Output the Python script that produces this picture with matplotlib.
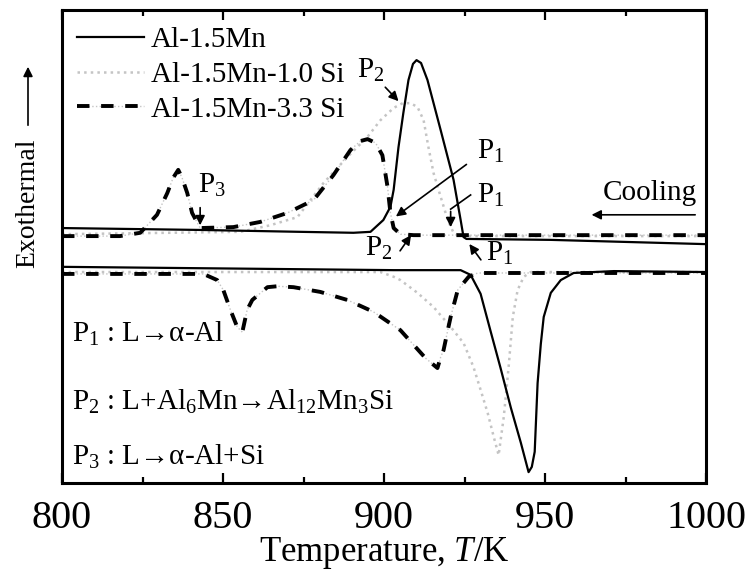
import matplotlib
matplotlib.use("Agg")
import matplotlib.pyplot as plt
from matplotlib.legend_handler import HandlerTuple
from matplotlib.ticker import MultipleLocator

plt.rcParams['font.family'] = ['Liberation Serif', 'DejaVu Serif']
plt.rcParams['mathtext.fontset'] = 'custom'
plt.rcParams['mathtext.rm'] = 'Liberation Serif'
plt.rcParams['mathtext.it'] = 'Liberation Serif:italic'

# ---- data (temperature K, signal arb. units) ----
mn_cool_T = [800, 843, 874, 890.5, 895.8, 899.8, 902.0, 903.0, 904.5, 906.0, 907.6, 909.0,
             910.1, 911.5, 913.5, 917.6, 921.6, 923.8, 924.7, 925.6, 951.8, 1000]
mn_cool_y = [53.9, 53.5, 53.1, 52.9, 53.1, 55.6, 58.4, 62.0, 71.0, 78.2, 85.2, 88.6,
             89.4, 88.8, 85.2, 74.6, 64.1, 55.6, 52.0, 51.6, 51.4, 50.5]

si10_cool_T = [800, 855.4, 864.7, 873.1, 881.2, 888.6, 894.9, 898.9, 903.0, 905.8, 908.2,
               910.4, 912.3, 913.8, 915.4, 917.6, 919.8, 921.6, 923.8, 1000]
si10_cool_y = [52.6, 53.1, 54.5, 56.2, 63.4, 68.9, 73.2, 76.7, 79.3, 80.3, 80.3,
               79.5, 76.7, 71.0, 65.5, 60.5, 55.6, 52.9, 52.2, 52.2]

si33_cool_T = [800, 818.0, 824.3, 829.5, 832.7, 834.5, 836.1, 837.3, 838.9, 840.4, 842.9,
               853.2, 861.6, 870.0, 878.1, 884.3, 889.6, 892.7, 894.9, 897.4, 899.5,
               901.1, 902.0, 903.0, 905.1, 909.2, 1000]
si33_cool_y = [52.2, 52.2, 52.9, 56.7, 61.3, 64.5, 66.2, 64.5, 61.3, 57.1, 53.9,
               54.1, 55.2, 57.1, 59.8, 65.1, 70.4, 72.3, 72.7, 71.9, 69.3,
               62.6, 57.1, 53.9, 52.6, 52.4, 52.4]

mn_heat_T = [800, 903, 923.8, 926.9, 930.0, 933.1, 936.2, 939.4, 942.5, 944.9, 945.9,
             946.8, 947.7, 948.7, 949.6, 951.8, 954.9, 958.9, 971.4, 1000]
mn_heat_y = [45.7, 45.0, 45.0, 44.0, 40.0, 32.1, 24.3, 15.9, 8.5, 2.3, 3.4,
             6.6, 21.1, 29.4, 35.1, 40.2, 42.9, 44.4, 44.8, 44.6]

si10_heat_T = [800, 898.9, 903.0, 905.1, 910.4, 915.4, 920.7, 924.7, 927.8, 930.0, 932.2,
               934.1, 935.6, 937.2, 938.7, 940.0, 941.5, 943.4, 945.6, 1000]
si10_heat_y = [44.6, 44.6, 43.6, 42.9, 40.2, 37.2, 33.0, 29.6, 24.5, 19.7, 14.8,
               9.7, 5.9, 14.0, 24.5, 35.1, 40.8, 43.6, 44.6, 44.6]

si33_heat_T = [800, 843.9, 848.2, 850.1, 852.3, 854.4, 856.0, 857.5, 859.1, 863.8, 866.9,
               871.9, 880.2, 888.6, 896.7, 905.1, 912.9, 916.6, 917.6, 918.5, 919.8,
               920.7, 922.9, 926.3, 929.1, 1000]
si33_heat_y = [44.2, 44.2, 42.9, 40.8, 36.6, 33.0, 31.9, 36.6, 38.7, 41.4, 41.6,
               41.4, 40.4, 38.7, 36.2, 32.3, 26.4, 24.3, 26.6, 28.1, 32.3,
               35.1, 40.8, 43.6, 44.4, 44.4]

labels = ['Al-1.5Mn', 'Al-1.5Mn-1.0 Si', 'Al-1.5Mn-3.3 Si']
xticks = [800, 850, 900, 950, 1000]

# ---- figure ----
fig = plt.figure(figsize=(7.49, 5.74), dpi=100)
ax = fig.add_axes([62/749, 1 - 483/574, (706-62)/749, (483-10)/574])

grey = '#c4c4c4'
ln_mn, = ax.plot(mn_cool_T, mn_cool_y, color='black', lw=1.6, zorder=4)
ax.plot(mn_heat_T, mn_heat_y, color='black', lw=1.6, zorder=4)
ln_10, = ax.plot(si10_cool_T, si10_cool_y, color=grey, lw=1.8, ls=':', zorder=2)
ax.plot(si10_heat_T, si10_heat_y, color=grey, lw=1.8, ls=':', zorder=2)
ln_33g, = ax.plot(si33_cool_T, si33_cool_y, color=grey, lw=1.0, ls=':', zorder=2)
ax.plot(si33_heat_T, si33_heat_y, color=grey, lw=1.0, ls=':', zorder=2)
ln_33, = ax.plot(si33_cool_T, si33_cool_y, color='black', lw=2.8, ls=(0, (3.2, 3.0)), zorder=3)
ax.plot(si33_heat_T, si33_heat_y, color='black', lw=2.8, ls=(0, (3.2, 3.0)), zorder=3)

ax.set_xlim(800, 1000)
ax.set_ylim(0, 100)
ax.set_xticks(xticks)
ax.xaxis.set_minor_locator(MultipleLocator(25))
ax.set_yticks([])
ax.tick_params(axis='x', which='both', direction='in', top=True, bottom=True,
               labelsize=29, pad=12, width=1.6)
ax.tick_params(axis='x', which='major', length=7)
ax.tick_params(axis='x', which='minor', length=4)
for s in ax.spines.values():
    s.set_linewidth(2.2)

ax.set_xlabel('Temperature, $\\mathit{T}$/K', fontsize=25, labelpad=-1)

leg = ax.legend([ln_mn, ln_10, (ln_33g, ln_33)], labels,
                handler_map={tuple: HandlerTuple(ndivide=1)},
                loc='upper left', bbox_to_anchor=(0.0, 0.995), frameon=False,
                fontsize=21, handlelength=2.3, handletextpad=0.25,
                labelspacing=0.28, borderaxespad=0.1)

fs = 21
arrow_kw = dict(arrowstyle='-|>', color='black', lw=1.2, mutation_scale=14)

ax.text(895.8, 87.3, 'P$_\\mathrm{2}$', fontsize=fs, ha='center', va='center')
ax.annotate('', xy=(905.1, 80.3), xytext=(899.8, 84.1), arrowprops=arrow_kw)

ax.text(933.0, 70.0, 'P$_\\mathrm{1}$', fontsize=fs, ha='center', va='center')
ax.annotate('', xy=(903.0, 56.0), xytext=(926.3, 67.7), arrowprops=arrow_kw)

ax.text(933.0, 60.7, 'P$_\\mathrm{1}$', fontsize=fs, ha='center', va='center')
ax.plot([926.9, 920.7], [60.9, 57.9], color='black', lw=1.2)
ax.annotate('', xy=(920.7, 53.5), xytext=(920.7, 58.0), arrowprops=arrow_kw)

ax.text(936.0, 48.6, 'P$_\\mathrm{1}$', fontsize=fs, ha='center', va='center')
ax.annotate('', xy=(926.0, 51.0), xytext=(930.6, 46.7), arrowprops=arrow_kw)

ax.text(898.3, 49.7, 'P$_\\mathrm{2}$', fontsize=fs, ha='center', va='center')
ax.annotate('', xy=(908.9, 52.9), xytext=(904.5, 48.6), arrowprops=arrow_kw)

ax.text(846.5, 63.0, 'P$_\\mathrm{3}$', fontsize=fs, ha='center', va='center')
ax.annotate('', xy=(842.9, 53.9), xytext=(842.9, 58.8), arrowprops=arrow_kw)

ax.text(982.5, 61.3, 'Cooling', fontsize=fs, ha='center', va='center')
ax.annotate('', xy=(963.6, 56.7), xytext=(997.5, 56.7), arrowprops=arrow_kw)

ax.text(803.1, 29.8, 'P$_\\mathrm{1}$ : L→α-Al', fontsize=fs, ha='left', va='baseline')
ax.text(803.1, 15.4, 'P$_\\mathrm{2}$ : L+Al$_\\mathrm{6}$Mn→Al$_\\mathrm{12}$Mn$_\\mathrm{3}$Si',
        fontsize=fs, ha='left', va='baseline')
ax.text(803.1, 3.8, 'P$_\\mathrm{3}$ : L→α-Al+Si', fontsize=fs, ha='left', va='baseline')

# y label with arrow
fig.text(28/749, 1 - 203/574, 'Exothermal', rotation=90, fontsize=20,
         ha='center', va='center')
fig.add_artist(matplotlib.patches.FancyArrowPatch(
    (28/749, 1 - 128/574), (28/749, 1 - 64/574), transform=fig.transFigure,
    arrowstyle='-|>', color='black', lw=1.2, mutation_scale=14))

fig.savefig('out.png', dpi=100)
